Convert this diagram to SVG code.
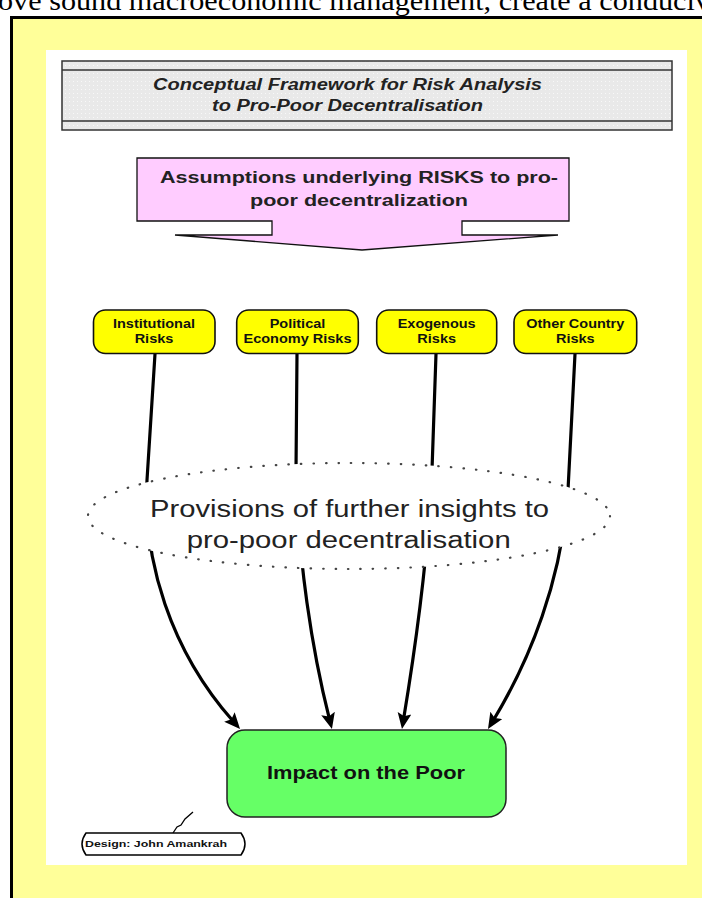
<svg xmlns="http://www.w3.org/2000/svg" width="702" height="898" viewBox="0 0 702 898">
<style>
.sans{font-family:"Liberation Sans",Arial,sans-serif;}
.b{font-weight:bold;}
.node{fill:#FFFF00;stroke:#111;stroke-width:1.6;}
.nt{font-family:"Liberation Sans",Arial,sans-serif;font-weight:bold;font-size:12px;fill:#111;text-anchor:middle;}
.conn{fill:none;stroke:#000;stroke-width:3.2;marker-end:url(#ah);}
</style>
<defs>
<marker id="ah" markerUnits="userSpaceOnUse" markerWidth="18" markerHeight="16" refX="6" refY="7" orient="auto">
<path d="M0,0 L16,7 L0,14 L3,7 Z" fill="#000"/>
</marker>
<pattern id="dots" width="4" height="4" patternUnits="userSpaceOnUse">
<rect width="4" height="4" fill="#e9e9e9"/>
<rect x="1" y="1" width="1" height="1" fill="#f8f8f8"/>
</pattern>
</defs>
<rect x="0" y="0" width="702" height="898" fill="#fff"/>
<text x="-2" y="10" font-family="'Liberation Serif','Times New Roman',serif" font-size="27" fill="#000" textLength="712" lengthAdjust="spacingAndGlyphs">ove sound macroeconomic management, create a conduciv</text>
<rect x="11.5" y="17.5" width="800" height="1000" fill="#FFFF99" stroke="#000" stroke-width="3"/>
<rect x="46" y="50" width="641" height="815" fill="#fff"/>

<g id="title">
<rect x="62" y="61" width="610" height="69" fill="url(#dots)" stroke="#333" stroke-width="1.5"/>
<line x1="62" y1="70" x2="672" y2="70" stroke="#333" stroke-width="1.5"/>
<line x1="62" y1="121" x2="672" y2="121" stroke="#333" stroke-width="1.5"/>
<text class="sans b" font-style="italic" font-size="16" fill="#222" text-anchor="middle" x="347.5" y="90" textLength="389" lengthAdjust="spacingAndGlyphs">Conceptual Framework for Risk Analysis</text>
<text class="sans b" font-style="italic" font-size="16" fill="#222" text-anchor="middle" x="347.5" y="111" textLength="271" lengthAdjust="spacingAndGlyphs">to Pro-Poor Decentralisation</text>
</g>

<g id="assumptions">
<path d="M137,158 H569 V221 H462 V235 H558 L362,250 L175,235 H272 V221 H137 Z" fill="#FFCCFF" stroke="#111" stroke-width="1.3"/>
<text class="sans b" font-size="16" fill="#222" text-anchor="middle" x="359" y="183" textLength="398" lengthAdjust="spacingAndGlyphs">Assumptions underlying RISKS to pro-</text>
<text class="sans b" font-size="16" fill="#222" text-anchor="middle" x="359" y="206" textLength="218" lengthAdjust="spacingAndGlyphs">poor decentralization</text>
</g>

<g id="connectors">
<path class="conn" d="M155,354 L147,480 C143,560 170,650 233.4,721.5"/>
<path class="conn" d="M297,354 L296,470 C298,560 312,650 329.5,719.3"/>
<path class="conn" d="M436,354 L432,470 C428,560 415,650 403.6,719.1"/>
<path class="conn" d="M575,354 L568,490 C562,580 530,660 493.2,720.5"/>
</g>

<g id="institutional">
<rect class="node" x="93.5" y="310" width="121.5" height="43.5" rx="12"/>
<text class="nt" x="154" y="328" textLength="82" lengthAdjust="spacingAndGlyphs">Institutional</text>
<text class="nt" x="154" y="342.7" textLength="38.7" lengthAdjust="spacingAndGlyphs">Risks</text>
</g>
<g id="political">
<rect class="node" x="236.7" y="310" width="121.6" height="43.5" rx="12"/>
<text class="nt" x="297.5" y="328" textLength="55.6" lengthAdjust="spacingAndGlyphs">Political</text>
<text class="nt" x="297.5" y="342.7" textLength="108" lengthAdjust="spacingAndGlyphs">Economy Risks</text>
</g>
<g id="exogenous">
<rect class="node" x="376.7" y="310" width="120" height="43.5" rx="12"/>
<text class="nt" x="436.7" y="328" textLength="78" lengthAdjust="spacingAndGlyphs">Exogenous</text>
<text class="nt" x="436.7" y="342.7" textLength="38.7" lengthAdjust="spacingAndGlyphs">Risks</text>
</g>
<g id="other">
<rect class="node" x="514" y="310" width="122.7" height="43.5" rx="12"/>
<text class="nt" x="575.3" y="328" textLength="98" lengthAdjust="spacingAndGlyphs">Other Country</text>
<text class="nt" x="575.3" y="342.7" textLength="38.7" lengthAdjust="spacingAndGlyphs">Risks</text>
</g>

<g id="insights">
<ellipse cx="349" cy="516" rx="261" ry="53" fill="#fff" stroke="#444" stroke-width="2.2" stroke-linecap="round" stroke-dasharray="0.5 12"/>
<text class="sans" font-size="23" fill="#222" text-anchor="middle" x="349.6" y="517" textLength="399" lengthAdjust="spacingAndGlyphs">Provisions of further insights to</text>
<text class="sans" font-size="23" fill="#222" text-anchor="middle" x="348.7" y="548" textLength="324" lengthAdjust="spacingAndGlyphs">pro-poor decentralisation</text>
</g>

<g id="impact">
<rect x="227" y="730" width="279" height="87" rx="18" fill="#66FF66" stroke="#222" stroke-width="1.5"/>
<text class="sans b" font-size="18.5" fill="#111" text-anchor="middle" x="366" y="779" textLength="198" lengthAdjust="spacingAndGlyphs">Impact on the Poor</text>
</g>

<g id="design">
<polyline points="173,833 177,827 181,825 185,819 193,812" fill="none" stroke="#000" stroke-width="1.3"/>
<path d="M86,833 H241 Q249,844 241,855 H86 Q78,844 86,833 Z" fill="#fff" stroke="#000" stroke-width="1.5"/>
<text class="sans b" font-size="9.5" fill="#111" x="85" y="847" textLength="142" lengthAdjust="spacingAndGlyphs">Design: John Amankrah</text>
</g>
</svg>
